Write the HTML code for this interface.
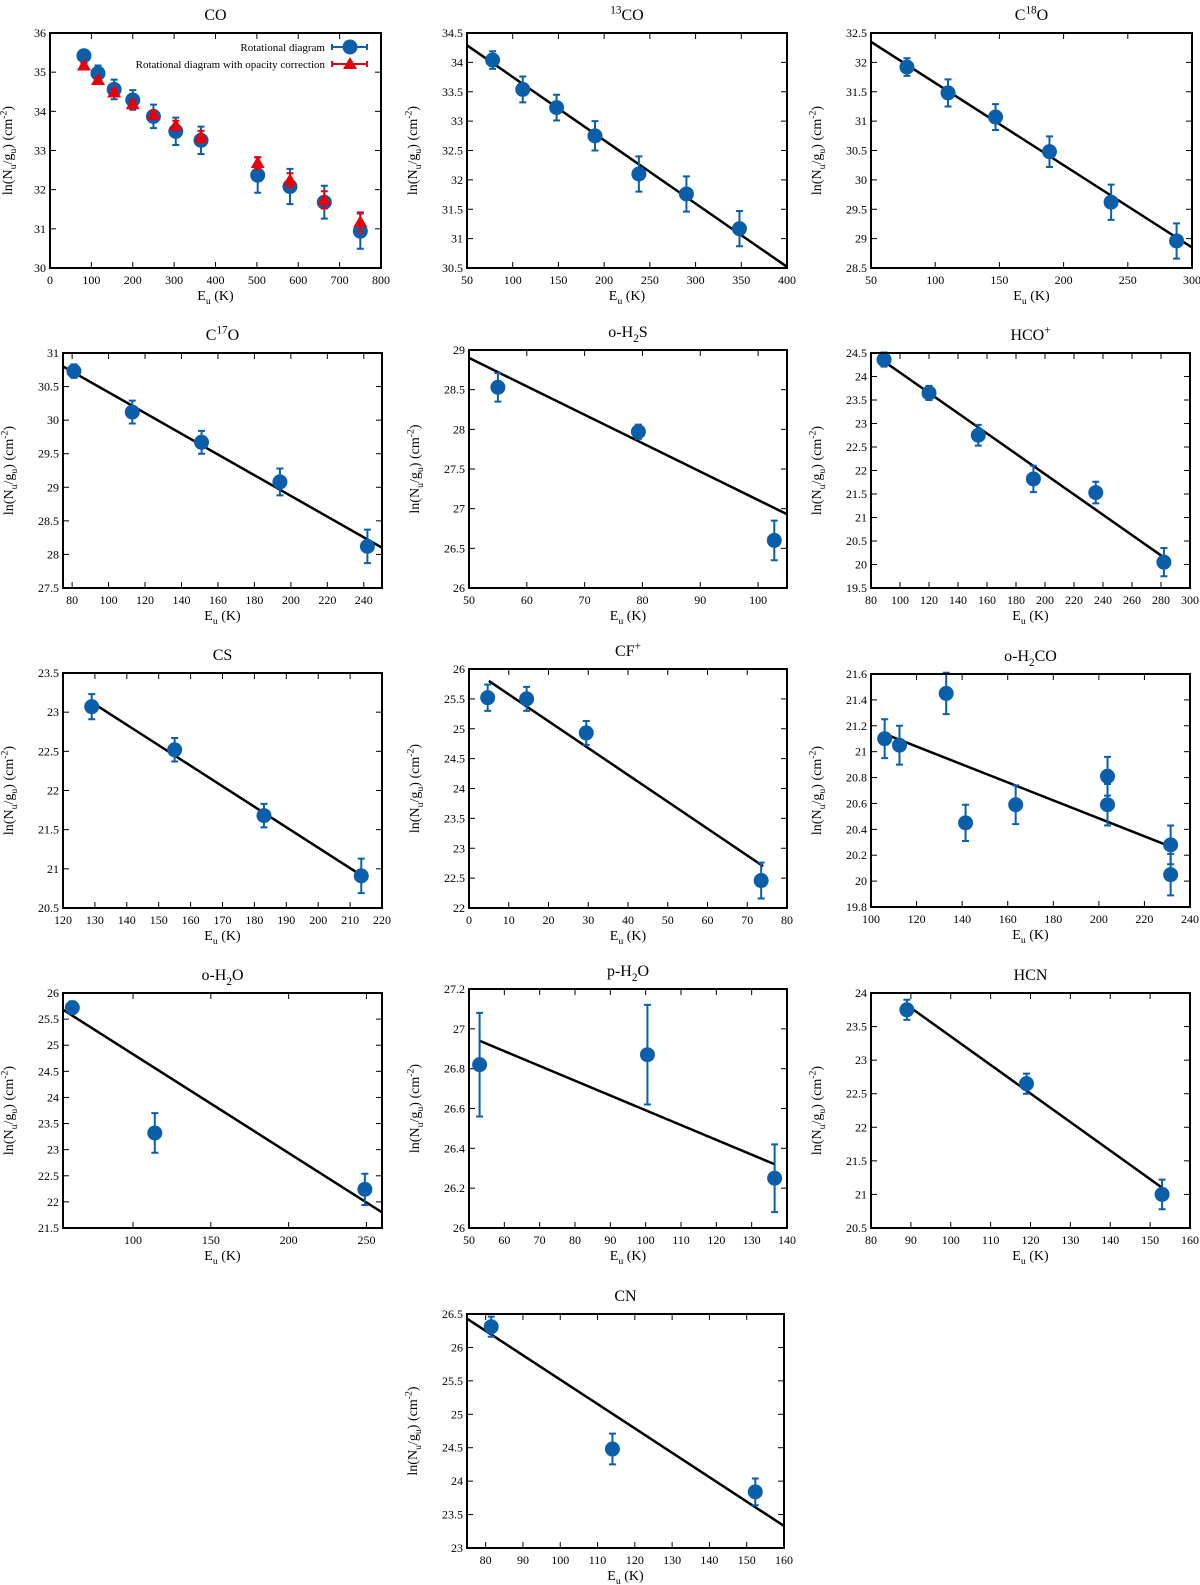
<!DOCTYPE html>
<html><head><meta charset="utf-8"><title>Rotational diagrams</title>
<style>
html,body{margin:0;padding:0;background:#fff;}
svg{display:block;font-family:"Liberation Serif",serif;}
</style></head>
<body>
<svg id="fig" width="1200" height="1585" viewBox="0 0 1200 1585" xmlns="http://www.w3.org/2000/svg"></svg>
<script>
// ---------- DATA ----------
const co_x=[82,116,155,200,250,304,365,502,580,663,750];
const co_y=[35.42,34.97,34.56,34.29,33.87,33.49,33.26,32.37,32.08,31.68,30.94];
const co_e=[0.1,0.2,0.25,0.25,0.3,0.35,0.35,0.45,0.45,0.42,0.45];
const co_ry=[35.17,34.80,34.48,34.18,33.91,33.64,33.35,32.68,32.24,31.74,31.17];
const co_re=[0.05,0.06,0.1,0.1,0.1,0.12,0.15,0.15,0.18,0.22,0.25];
const co_xticks=[0,100,200,300,400,500,600,700,800];
const co_yticks=[30,31,32,33,34,35,36];

const c13_x=[78,111,148,190,238,290,348];
const c13_y=[34.04,33.54,33.23,32.75,32.1,31.76,31.17];
const c13_e=[0.15,0.22,0.22,0.25,0.3,0.3,0.3];
const c13_fitx=[50,400]; const c13_fity=[34.29,30.52];
const c13_xticks=[50,100,150,200,250,300,350,400];
const c13_yticks=[30.5,31,31.5,32,32.5,33,33.5,34,34.5];

const c18_x=[78,110,147,189,237,288];
const c18_y=[31.92,31.48,31.07,30.48,29.62,28.96];
const c18_e=[0.15,0.23,0.22,0.26,0.3,0.3];
const c18_fitx=[50,300]; const c18_fity=[32.35,28.85];
const c18_xticks=[50,100,150,200,250,300];
const c18_yticks=[28.5,29,29.5,30,30.5,31,31.5,32,32.5];

const c17_x=[81,113,151,194,242];
const c17_y=[30.73,30.12,29.67,29.08,28.12];
const c17_e=[0.1,0.17,0.17,0.2,0.25];
const c17_fitx=[75,250]; const c17_fity=[30.8,28.1];
const c17_xticks=[80,100,120,140,160,180,200,220,240];
const c17_yticks=[27.5,28,28.5,29,29.5,30,30.5,31];

const h2s_x=[55,79.3,102.8];
const h2s_y=[28.53,27.97,26.6];
const h2s_e=[0.18,0.09,0.25];
const h2s_fitx=[50,105]; const h2s_fity=[28.9,26.93];
const h2s_xticks=[50,60,70,80,90,100];
const h2s_yticks=[26,26.5,27,27.5,28,28.5,29];

const hco_x=[89,120,154,192,235,282];
const hco_y=[24.36,23.65,22.75,21.82,21.53,20.05];
const hco_e=[0.15,0.15,0.22,0.28,0.23,0.3];
const hco_fitx=[90,282]; const hco_fity=[24.3,20.15];
const hco_xticks=[80,100,120,140,160,180,200,220,240,260,280,300];
const hco_yticks=[19.5,20,20.5,21,21.5,22,22.5,23,23.5,24,24.5];

const cs_x=[129,155,183,213.5];
const cs_y=[23.07,22.52,21.68,20.91];
const cs_e=[0.16,0.15,0.15,0.22];
const cs_fitx=[130,213]; const cs_fity=[23.1,20.93];
const cs_xticks=[120,130,140,150,160,170,180,190,200,210,220];
const cs_yticks=[20.5,21,21.5,22,22.5,23,23.5];

const cf_x=[4.7,14.5,29.5,73.5];
const cf_y=[25.52,25.5,24.93,22.46];
const cf_e=[0.22,0.2,0.2,0.3];
const cf_fitx=[5,74]; const cf_fity=[25.8,22.7];
const cf_xticks=[0,10,20,30,40,50,60,70,80];
const cf_yticks=[22,22.5,23,23.5,24,24.5,25,25.5,26];

const h2co_x=[106,112.5,133,141.5,163.5,203.8,203.8,231.5,231.5];
const h2co_y=[21.1,21.05,21.45,20.45,20.59,20.81,20.59,20.28,20.05];
const h2co_e=[0.15,0.15,0.16,0.14,0.15,0.15,0.16,0.15,0.16];
const h2co_fitx=[107,231]; const h2co_fity=[21.13,20.27];
const h2co_xticks=[100,120,140,160,180,200,220,240];
const h2co_yticks=[19.8,20,20.2,20.4,20.6,20.8,21,21.2,21.4,21.6];

const oh2o_x=[61,114,249];
const oh2o_y=[25.72,23.32,22.24];
const oh2o_e=[0.12,0.38,0.3];
const oh2o_fitx=[55,260]; const oh2o_fity=[25.68,21.8];
const oh2o_xticks=[100,150,200,250];
const oh2o_yticks=[21.5,22,22.5,23,23.5,24,24.5,25,25.5,26];

const ph2o_x=[53,100.5,136.5];
const ph2o_y=[26.82,26.87,26.25];
const ph2o_e=[0.26,0.25,0.17];
const ph2o_fitx=[53,136.5]; const ph2o_fity=[26.94,26.32];
const ph2o_xticks=[50,60,70,80,90,100,110,120,130,140];
const ph2o_yticks=[26,26.2,26.4,26.6,26.8,27,27.2];

const hcn_x=[89,119,153];
const hcn_y=[23.75,22.65,21.0];
const hcn_e=[0.15,0.15,0.22];
const hcn_fitx=[89.5,153]; const hcn_fity=[23.8,21.1];
const hcn_xticks=[80,90,100,110,120,130,140,150,160];
const hcn_yticks=[20.5,21,21.5,22,22.5,23,23.5,24];

const cn_x=[81.5,114,152.3];
const cn_y=[26.31,24.48,23.84];
const cn_e=[0.15,0.23,0.2];
const cn_fitx=[75,160]; const cn_fity=[26.43,23.33];
const cn_xticks=[80,90,100,110,120,130,140,150,160];
const cn_yticks=[23,23.5,24,24.5,25,25.5,26,26.5];

// ---------- RENDER ----------
const NS="http://www.w3.org/2000/svg";
const svg=document.getElementById('fig');
const BLUE="#0b5faa", RED="#e8000b";
function el(tag,attrs,parent){const e=document.createElementNS(NS,tag);for(const k in attrs)e.setAttribute(k,attrs[k]);(parent||svg).appendChild(e);return e;}
function fmt(v){return String(+v.toFixed(1));}

function addRich(t,segs,size){
  segs.forEach(s=>{
    const sp=document.createElementNS(NS,'tspan');
    sp.textContent=s[0];
    if(s[1]==='sub'){sp.setAttribute('font-size',size*0.7);sp.setAttribute('dy',size*0.3);}
    else if(s[1]==='sup'){sp.setAttribute('font-size',size*0.7);sp.setAttribute('dy',-size*0.4);}
    t.appendChild(sp);
    if(s[1]){const r=document.createElementNS(NS,'tspan');r.textContent='\u200b';r.setAttribute('dy',s[1]==='sub'?-size*0.3:size*0.4);t.appendChild(r);}
  });
}

function panel(p){
  const g=el('g',{});
  
  
  const X=v=>p.L+(v-p.xr[0])/(p.xr[1]-p.xr[0])*(p.R-p.L);
  const Y=v=>p.B-(v-p.yr[0])/(p.yr[1]-p.yr[0])*(p.B-p.T);
  const t=el('text',{x:(p.L+p.R)/2,y:p.T-13,'text-anchor':'middle','font-size':16},g);
  
  
  addRich(t,p.title,16);
  p.xticks.forEach(v=>{
    const x=X(v);
    el('line',{x1:x,y1:p.B,x2:x,y2:p.B-6,stroke:'#000','stroke-width':1},g);
    el('line',{x1:x,y1:p.T,x2:x,y2:p.T+6,stroke:'#000','stroke-width':1},g);
    const lb=el('text',{x:x,y:p.B+16,'text-anchor':'middle','font-size':12},g);
    lb.textContent=fmt(v);
    
    
  });
  p.yticks.forEach(v=>{
    const y=Y(v);
    el('line',{x1:p.L,y1:y,x2:p.L+6,y2:y,stroke:'#000','stroke-width':1},g);
    el('line',{x1:p.R,y1:y,x2:p.R-6,y2:y,stroke:'#000','stroke-width':1},g);
    const lb=el('text',{x:p.L-4,y:y+4,'text-anchor':'end','font-size':12},g);
    lb.textContent=fmt(v);
    
    
  });
  const xt=el('text',{x:(p.L+p.R)/2,y:p.B+32,'text-anchor':'middle','font-size':14},g);
  
  
  addRich(xt,[['E'],['u','sub'],[' (K)']],14);
  const yc=(p.T+p.B)/2, yx=p.L-(p.yoff||50);
  const yt=el('text',{x:yx,y:yc,'text-anchor':'middle','font-size':14,transform:`rotate(-90 ${yx} ${yc})`},g);
  
  
  addRich(yt,[['ln(N'],['u','sub'],['/g'],['u','sub'],[') (cm'],['-2','sup'],[')']],14);
  if(p.fitx){
    const ln=el('line',{x1:X(p.fitx[0]),y1:Y(p.fity[0]),x2:X(p.fitx[1]),y2:Y(p.fity[1]),stroke:'#000','stroke-width':2.5},g);
    
    
  }
  function series(xs,ys,es,color,shape,label){
    xs.forEach((xv,i)=>{
      const cx=X(xv), cy=Y(ys[i]), y1=Y(ys[i]+es[i]), y2=Y(ys[i]-es[i]);
      const eb=el('path',{d:`M${cx},${y1}V${y2}M${cx-3.5},${y1}H${cx+3.5}M${cx-3.5},${y2}H${cx+3.5}`,stroke:color,'stroke-width':2,fill:'none'},g);
      
      
      let m;
      if(shape==='tri') m=el('path',{d:`M${cx},${cy-7}L${cx+7},${cy+5}L${cx-7},${cy+5}Z`,fill:color},g);
      else m=el('circle',{cx:cx,cy:cy,r:7.5,fill:color},g);
      
      
    });
  }
  series(p.x,p.y,p.e,BLUE,'circle','data');
  if(p.ry) series(p.x,p.ry,p.re,RED,'tri','opacity-corrected');
  const fr=el('rect',{x:p.L,y:p.T,width:p.R-p.L,height:p.B-p.T,fill:'none',stroke:'#000','stroke-width':2},g);
  
  
  if(p.legend){
    const lg=el('g',{},g);
    
    
    [[BLUE,'circle','Rotational diagram',47],[RED,'tri','Rotational diagram with opacity correction',64]].forEach(r=>{
      const tx=el('text',{x:325,y:r[3]+4,'text-anchor':'end','font-size':11},lg);
      tx.textContent=r[2];
      
      
      el('path',{d:`M332,${r[3]}H367M332,${r[3]-3}V${r[3]+3}M367,${r[3]-3}V${r[3]+3}`,stroke:r[0],'stroke-width':2},lg);
      if(r[1]==='tri') el('path',{d:`M350,${r[3]-7}L357,${r[3]+5}L343,${r[3]+5}Z`,fill:r[0]},lg);
      else el('circle',{cx:350,cy:r[3],r:7.5,fill:r[0]},lg);
    });
  }
}

const C1L=63,C1R=382,C2L=467,C2R=787,C3L=871,C3R=1190;
panel({name:'co',title:[['CO']],L:50,R:381,T:33,B:268,yoff:38,xr:[0,800],yr:[30,36],xticks:co_xticks,yticks:co_yticks,x:co_x,y:co_y,e:co_e,ry:co_ry,re:co_re,legend:true});
panel({name:'13co',title:[['13','sup'],['CO']],L:C2L,R:C2R,T:33,B:268,xr:[50,400],yr:[30.5,34.5],xticks:c13_xticks,yticks:c13_yticks,x:c13_x,y:c13_y,e:c13_e,fitx:c13_fitx,fity:c13_fity});
panel({name:'c18o',title:[['C'],['18','sup'],['O']],L:C3L,R:C3R+2,T:33,B:268,xr:[50,300],yr:[28.5,32.5],xticks:c18_xticks,yticks:c18_yticks,x:c18_x,y:c18_y,e:c18_e,fitx:c18_fitx,fity:c18_fity});

panel({name:'c17o',title:[['C'],['17','sup'],['O']],L:C1L,R:C1R,T:353,B:588,xr:[75,250],yr:[27.5,31],xticks:c17_xticks,yticks:c17_yticks,x:c17_x,y:c17_y,e:c17_e,fitx:c17_fitx,fity:c17_fity});
panel({name:'o-h2s',title:[['o-H'],['2','sub'],['S']],L:C2L+2,R:C2R,T:350,B:588,xr:[50,105],yr:[26,29],xticks:h2s_xticks,yticks:h2s_yticks,x:h2s_x,y:h2s_y,e:h2s_e,fitx:h2s_fitx,fity:h2s_fity});
panel({name:'hco-plus',title:[['HCO'],['+','sup']],L:C3L,R:C3R,T:353,B:588,xr:[80,300],yr:[19.5,24.5],xticks:hco_xticks,yticks:hco_yticks,x:hco_x,y:hco_y,e:hco_e,fitx:hco_fitx,fity:hco_fity});

panel({name:'cs',title:[['CS']],L:C1L,R:C1R,T:673,B:908,xr:[120,220],yr:[20.5,23.5],xticks:cs_xticks,yticks:cs_yticks,x:cs_x,y:cs_y,e:cs_e,fitx:cs_fitx,fity:cs_fity});
panel({name:'cf-plus',title:[['CF'],['+','sup']],L:C2L+2,R:C2R,T:669,B:908,xr:[0,80],yr:[22,26],xticks:cf_xticks,yticks:cf_yticks,x:cf_x,y:cf_y,e:cf_e,fitx:cf_fitx,fity:cf_fity});
panel({name:'o-h2co',title:[['o-H'],['2','sub'],['CO']],L:C3L,R:C3R,T:674,B:907,xr:[100,240],yr:[19.8,21.6],xticks:h2co_xticks,yticks:h2co_yticks,x:h2co_x,y:h2co_y,e:h2co_e,fitx:h2co_fitx,fity:h2co_fity});

panel({name:'o-h2o',title:[['o-H'],['2','sub'],['O']],L:C1L,R:C1R,T:993,B:1228,xr:[55,260],yr:[21.5,26],xticks:oh2o_xticks,yticks:oh2o_yticks,x:oh2o_x,y:oh2o_y,e:oh2o_e,fitx:oh2o_fitx,fity:oh2o_fity});
panel({name:'p-h2o',title:[['p-H'],['2','sub'],['O']],L:C2L+2,R:C2R,T:989,B:1228,xr:[50,140],yr:[26,27.2],xticks:ph2o_xticks,yticks:ph2o_yticks,x:ph2o_x,y:ph2o_y,e:ph2o_e,fitx:ph2o_fitx,fity:ph2o_fity});
panel({name:'hcn',title:[['HCN']],L:C3L,R:C3R,T:993,B:1228,xr:[80,160],yr:[20.5,24],xticks:hcn_xticks,yticks:hcn_yticks,x:hcn_x,y:hcn_y,e:hcn_e,fitx:hcn_fitx,fity:hcn_fity});

panel({name:'cn',title:[['CN']],L:467,R:784,T:1314,B:1548,xr:[75,160],yr:[23,26.5],xticks:cn_xticks,yticks:cn_yticks,x:cn_x,y:cn_y,e:cn_e,fitx:cn_fitx,fity:cn_fity});
</script>
</body></html>
